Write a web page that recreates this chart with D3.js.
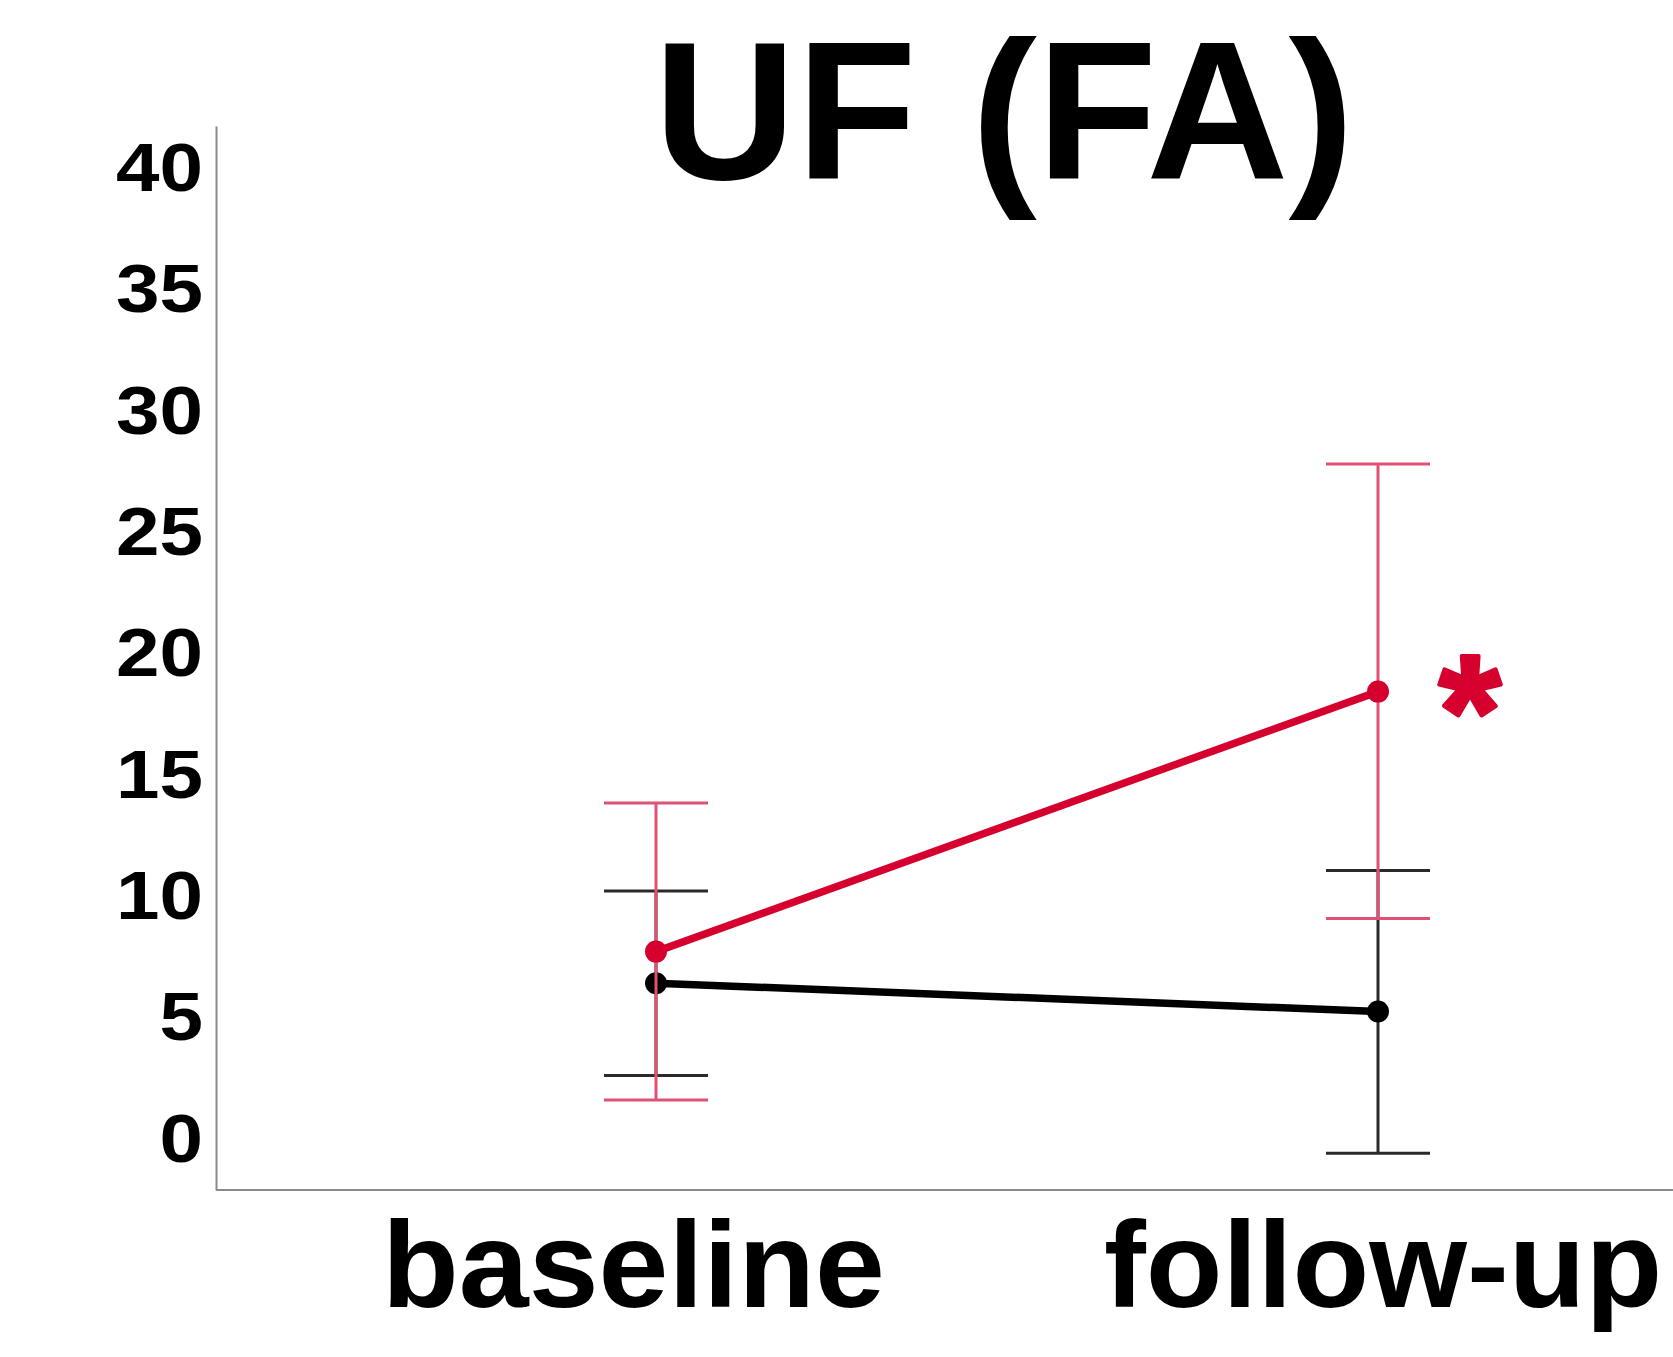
<!DOCTYPE html>
<html>
<head>
<meta charset="utf-8">
<script src="https://cdn.jsdelivr.net/npm/d3@7"></script>
<style>
  html, body { margin: 0; padding: 0; background: #fff; }
  svg { display: block; }
  text { font-family: "Liberation Sans", Arial, sans-serif; font-weight: bold; }
</style>
</head>
<body>
<svg id="chart" width="1673" height="1357"></svg>
<script>
// Time points on the x axis
const timepoints = ["baseline", "follow-up"];

// Group means with the lower / upper ends of their error bars
const redMean  = [7.74, 18.45];
const redLow   = [1.63, 9.10];
const redHigh  = [13.86, 27.83];

const blackMean = [6.44, 5.27];
const blackLow  = [2.64, -0.57];
const blackHigh = [10.24, 11.08];

const yTicks = [0, 5, 10, 15, 20, 25, 30, 35, 40];
const titleText = "UF (FA)";
const markText = "*";

const plot = { left: 216, right: 1673, top: 126, bottom: 1190 };

const svg = d3.select("#chart");

const y = d3.scaleLinear().domain([-2.08, 41.75]).range([plot.bottom, plot.top]);
const x = d3.scalePoint().domain(timepoints).range([656, 1378]);

const RED = "#d5002e";
const RED_BAR = "#e05274";
const BLACK = "#000";
const BLACK_BAR = "#2a2a2a";

// Title
svg.append("text")
  .attr("x", 1004).attr("y", 179)
  .attr("text-anchor", "middle")
  .attr("font-size", 197)
  .attr("fill", "#000")
  .text(titleText);

// Y axis (labels slightly widened)
const tickScaleX = 1.15;
const yAxis = svg.append("g")
  .attr("transform", `translate(${plot.left},0)`)
  .call(d3.axisLeft(y).tickValues(yTicks).tickSize(0).tickPadding(13).tickSizeOuter(0));
yAxis.select(".domain").attr("stroke", "#8a8a8a").attr("stroke-width", 2);
yAxis.selectAll(".tick text")
  .attr("x", -13 / tickScaleX)
  .attr("transform", `scale(${tickScaleX},1)`)
  .attr("font-size", 68)
  .attr("font-family", "Liberation Sans, Arial, sans-serif")
  .attr("font-weight", "bold")
  .attr("fill", "#000");

// X axis
const xAxis = svg.append("g")
  .attr("transform", `translate(0,${plot.bottom})`);
xAxis.append("line")
  .attr("x1", plot.left).attr("x2", plot.right)
  .attr("stroke", "#8a8a8a").attr("stroke-width", 2);
const catScaleX = 1.03;
xAxis.selectAll("text.cat")
  .data(timepoints)
  .join("text")
  .attr("class", "cat")
  .attr("transform", d => `translate(${x(d) - 274},117) scale(${catScaleX},1)`)
  .attr("text-anchor", "start")
  .attr("font-size", 122)
  .attr("fill", "#000")
  .text(d => d);

const capHalf = 52;

function drawSeries(mean, low, high, barColor) {
  const g = svg.append("g");
  const rows = timepoints.map((t, i) => ({ t, m: mean[i], lo: low[i], hi: high[i] }));

  // Error bars: stem plus caps
  const eb = g.selectAll("g.eb").data(rows).join("g").attr("class", "eb")
    .attr("stroke", barColor).attr("stroke-width", 3);
  eb.append("line")
    .attr("x1", d => x(d.t)).attr("x2", d => x(d.t))
    .attr("y1", d => y(d.lo)).attr("y2", d => y(d.hi));
  eb.append("line")
    .attr("x1", d => x(d.t) - capHalf).attr("x2", d => x(d.t) + capHalf)
    .attr("y1", d => y(d.hi)).attr("y2", d => y(d.hi));
  eb.append("line")
    .attr("x1", d => x(d.t) - capHalf).attr("x2", d => x(d.t) + capHalf)
    .attr("y1", d => y(d.lo)).attr("y2", d => y(d.lo));

  return { g, rows };
}

function drawLine(s, lineColor) {
  s.g.append("path")
    .datum(s.rows)
    .attr("d", d3.line().x(d => x(d.t)).y(d => y(d.m)))
    .attr("fill", "none")
    .attr("stroke", lineColor)
    .attr("stroke-width", 7.5);
  s.g.selectAll("circle")
    .data(s.rows)
    .join("circle")
    .attr("cx", d => x(d.t)).attr("cy", d => y(d.m))
    .attr("r", 11)
    .attr("fill", lineColor);
}

const blackS = drawSeries(blackMean, blackLow, blackHigh, BLACK_BAR);
const redS = drawSeries(redMean, redLow, redHigh, RED_BAR);
drawLine(blackS, BLACK);
drawLine(redS, RED);

// Significance marker next to the follow-up red point
svg.append("text")
  .attr("x", x("follow-up") + 92)
  .attr("y", y(redMean[1]) + 74)
  .attr("text-anchor", "middle")
  .attr("font-size", 160)
  .attr("fill", RED)
  .attr("stroke", RED)
  .attr("stroke-width", 4)
  .attr("stroke-linejoin", "round")
  .text(markText);
</script>
</body>
</html>
